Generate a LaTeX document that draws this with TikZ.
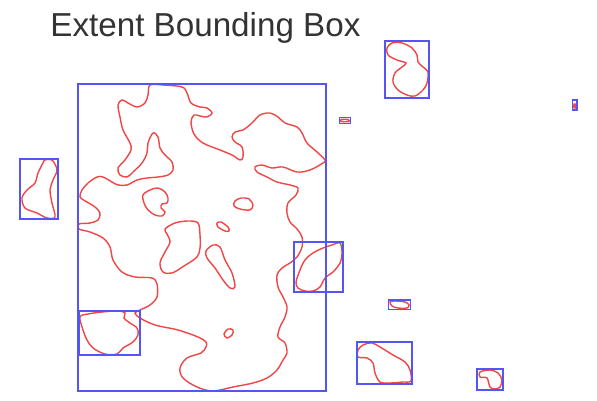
\documentclass[tikz,border=0pt]{standalone}
\usepackage{fontspec}
\setmainfont{Liberation Sans}
\usepackage{xcolor}
\usetikzlibrary{positioning}

\definecolor{cajaazul}{RGB}{85,85,245}
\definecolor{bordeRojo}{RGB}{240,70,70}
\definecolor{titulogris}{RGB}{51,51,51}

\begin{document}
\begin{tikzpicture}[
            x=0.02cm, y=-0.02cm,
            % Estilos de cajas y contornos
            caja/.style={draw=cajaazul, line width=0.8pt},
            contorno/.style={draw=bordeRojo, line width=0.8pt, smooth cycle, tension=0.55},
            titulo/.style={font=\fontsize{18.9}{22}\selectfont, text=titulogris, inner sep=0pt, anchor=base west}
            ]
            \useasboundingbox (0,0) rectangle (597,401);

            % Titulo
            \node (title) [titulo] at (50,36.7) {Extent Bounding Box};

            % Contorno principal
            \draw [contorno] plot coordinates {
                (150,85) (148,95) (145,103) (137,107) (128,103) (122,100) (118,105) (120,117)
                (123,130) (130,143) (131,150) (125,160) (118,168) (120,175) (127,177) (133,172)
                (142,163) (147,153) (148,143) (153,133) (158,137) (160,148) (165,155) (172,162)
                (173,170) (168,175) (158,177) (147,178) (137,180) (127,185) (118,185) (112,182)
                (103,177) (97,177) (88,183) (82,190) (80,197) (87,202) (95,207) (100,213)
                (98,220) (90,223) (79,224) (79,229) (90,232) (103,238) (110,247) (113,260)
                (122,272) (135,277) (152,278) (157,284) (157,297) (150,305) (140,310) (135,313)
                (140,318) (155,325) (178,330) (198,337) (206,342) (206,347) (201,353) (187,358)
                (180,368) (183,378) (197,387) (213,391) (233,387) (253,383) (267,378) (277,370)
                (283,360) (287,353) (285,343) (278,337) (280,327) (285,317) (287,307) (283,297)
                (278,287) (277,275) (282,268) (290,263) (297,257) (302,247) (302,237) (297,229)
                (290,222) (287,213) (288,203) (296,195) (298,188) (290,185) (277,182) (267,177)
                (257,172) (255,167) (262,165) (272,168) (283,167) (297,172) (310,170) (323,163)
                (325,160) (317,152) (307,143) (302,133) (297,127) (285,123) (278,117) (270,113)
                (260,115) (252,123) (243,130) (235,132) (232,137) (235,142) (242,147) (243,157)
                (240,160) (232,155) (220,150) (203,143) (194,134) (191,122) (194,115) (200,116)
                (207,117) (212,113) (207,108) (200,107) (191,103) (187,93) (182,87) (163,85)};

            % Huecos dentro del contorno principal
            \draw [contorno] plot coordinates {(143,195) (150,190) (158,188) (165,192) (168,198)
                (167,203) (162,204) (161,208) (165,212) (162,216) (155,215) (148,210) (144,203)};
            \draw [contorno] plot coordinates {(235,201) (241,198) (249,199) (253,205) (250,210) (240,209) (234,206)};
            \draw [contorno] plot coordinates {(217,223) (221,222) (228,227) (229,231) (225,231) (218,227)};
            \draw [contorno] plot coordinates {(165,229) (175,223) (188,221) (198,223) (200,235) (200,248)
                (197,257) (184,266) (172,273) (163,272) (160,263) (165,252) (170,242) (167,234)};
            \draw [contorno] plot coordinates {(206,251) (213,245) (220,247) (225,260) (232,273)
                (235,287) (230,288) (223,280) (215,268) (207,258)};
            \draw [contorno] plot coordinates {(224,334) (228,329) (233,330) (232,335) (227,338)};

            % Otros contornos
            \draw [contorno] plot coordinates {(80,317) (88,314) (102,312) (118,311) (125,313)
                (124,318) (130,323) (137,328) (138,335) (133,342) (123,348) (117,354) (105,354)
                (93,348) (87,340) (83,330)};
            \draw [contorno] plot coordinates {(45,160) (52,160) (57,170) (53,180) (50,190) (52,203)
                (55,217) (47,218) (37,213) (25,208) (22,198) (27,190) (35,183) (38,173) (43,163)};
            \draw [contorno] plot coordinates {(392,43) (402,43) (412,48) (417,55) (418,62) (423,67)
                (428,72) (427,83) (423,90) (415,96) (407,95) (398,90) (393,82) (395,73) (402,67)
                (406,63) (397,60) (388,55) (387,48)};
            \draw [contorno] plot coordinates {(340,243) (342,253) (340,263) (333,272) (325,278)
                (320,287) (313,291) (305,291) (298,288) (296,282) (300,270) (305,260) (313,253)
                (323,248) (332,245)};
            \draw [contorno] plot coordinates {(390,302) (395,301) (405,302) (409,305) (407,308) (398,308) (392,306)};
            \draw [contorno] plot coordinates {(358,357) (367,358) (373,363) (375,373) (380,382)
                (390,383) (403,382) (411,381) (410,370) (405,362) (393,355) (380,347) (372,343)
                (363,345) (358,350)};
            \draw [contorno] plot coordinates {(480,372) (490,370) (498,373) (502,380) (500,387)
                (495,389) (490,387) (487,378) (480,377)};
            \draw [contorno] plot coordinates {(341,119.5) (348,119.5) (349,121.5) (341,121.5)};
            \draw [contorno] plot coordinates {(574,104) (575.5,104) (575.5,108) (574,108)};

            % Cajas envolventes
            \draw [caja] (78,84) rectangle (326,391);
            \draw [caja] (20,159) rectangle (58,219);
            \draw [caja] (385,41) rectangle (429,98);
            \draw [caja] (339.5,117.5) rectangle (350.5,123.5);
            \draw [caja] (572.5,100) rectangle (577,110);
            \draw [caja] (294,242) rectangle (343,292);
            \draw [caja] (388.5,300) rectangle (410.5,309.5);
            \draw [caja] (357,342) rectangle (412,384);
            \draw [caja] (477,369) rectangle (503,390);
            \draw [caja] (79,311) rectangle (140,355);

        \end{tikzpicture}
\end{document}
